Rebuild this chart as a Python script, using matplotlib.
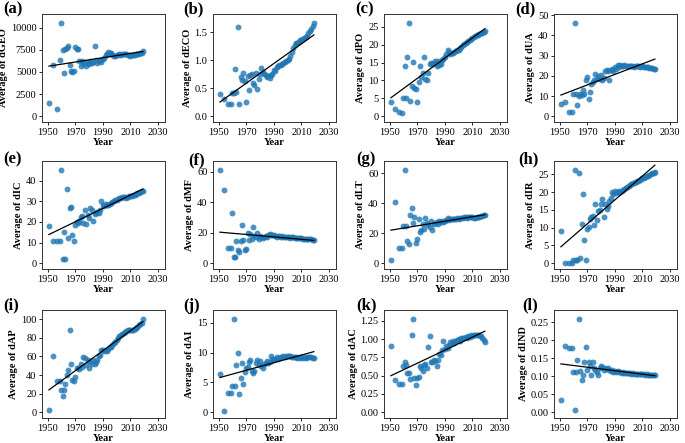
import matplotlib
matplotlib.use("Agg")
import matplotlib.pyplot as plt
import numpy as np
from matplotlib.ticker import MultipleLocator

plt.rcParams['font.family'] = 'serif'
plt.rcParams['font.serif'] = ['Liberation Serif', 'DejaVu Serif']

# years shared by all panels
years = [1951, 1954, 1957, 1959, 1960, 1961, 1962, 1963, 1964, 1965,
         1966, 1967, 1968, 1969, 1970, 1971, 1972, 1973, 1974,
         1975, 1976, 1977, 1978, 1979, 1980, 1981, 1982, 1983, 1984,
         1985, 1986, 1987, 1988, 1989, 1990, 1991, 1992, 1993, 1994,
         1995, 1996, 1997, 1998, 1999, 2000, 2001, 2002, 2003, 2004,
         2005, 2006, 2007, 2008, 2009, 2010, 2011, 2012, 2013, 2014,
         2015, 2016, 2017, 2018, 2019]

dGEO = [1500, 5800, 800, 6400, 10500, 7500, 4900, 7600, 7700, 7900, 5800, 5100, 5000, 5150, 7800, 7600, 7650, 6200, 5700,
        6250, 5900, 6100, 5700, 6000, 5900, 6250, 6000, 6100, 7900,
        6300, 6000, 6200, 6400, 6100, 6500, 6600, 6900, 7000, 7250,
        7200, 7100, 6900, 6850, 6800, 6900, 6950, 7000, 6950, 7050,
        7000, 7050, 7000, 6950, 6900, 6850, 6900, 6950, 6900, 7000,
        7050, 7000, 7100, 7200, 7350]
dECO = [0.40, 0.30, 0.22, 0.22, 0.42, 0.42, 0.85, 0.43, 1.59, 0.22, 0.70, 0.65, 0.77, 0.63, 0.26, 0.72, 0.46, 0.73, 0.75,
        0.60, 0.55, 0.77, 0.49, 0.66, 0.75, 0.87, 0.79, 0.76, 0.73,
        0.70, 0.72, 0.69, 0.73, 0.75, 0.82, 0.80, 0.88, 0.90, 0.92,
        0.91, 0.93, 0.95, 0.97, 0.98, 1.00, 1.03, 1.08, 1.15, 1.22,
        1.28, 1.30, 1.31, 1.33, 1.36, 1.37, 1.38, 1.40, 1.42, 1.44,
        1.48, 1.52, 1.56, 1.61, 1.66]
dPO = [4, 2, 1.2, 1.0, 5, 14, 5, 16.5, 26, 4.2, 8.5, 15.2, 8, 7.5, 4, 9.5, 14, 11, 12,
       16.5, 10.5, 10.2, 12, 14.5, 15, 14.5, 15, 15.5, 14,
       15.5, 14.2, 14.5, 15.8, 16, 16.5, 17.5, 18.4, 18, 17.5,
       17.8, 17.6, 18, 18.2, 18.4, 18.6, 19.0, 19.4, 19.8, 20.2,
       20.5, 20.8, 21.1, 21.4, 21.7, 22.0, 22.2, 22.4, 22.6, 22.8,
       23.0, 23.2, 23.4, 23.6, 23.8]
dUA = [6, 7, 2, 2, 11, 46, 11, 5.5, 10, 11, 10.5, 12.8, 11, 17.8, 19.4, 8.7, 12, 16, 17,
       17.8, 20.7, 18.6, 19.8, 18.5, 20.3, 18, 19, 22.4, 23,
       22.5, 17.8, 22.7, 23.5, 22.5, 24.4, 23.5, 25.2, 24.5, 25.2,
       24.8, 25.0, 25.3, 24.7, 24.9, 25.0, 24.7, 24.9, 24.8, 24.6,
       24.8, 24.7, 24.9, 24.6, 24.7, 24.8, 24.6, 24.5, 24.4, 24.3,
       24.1, 24.0, 23.8, 23.5, 23.3]
dIC = [18, 11, 11, 11, 45, 2, 15.2, 2, 36, 12, 26.6, 27.4, 13.9, 10.8, 18.4, 19.8, 19.3, 20.6, 22.2,
       22.9, 19.6, 25.8, 18.8, 23.3, 22, 26.6, 25.8, 20.4, 23.7,
       24.2, 25, 24.5, 26, 29.9, 28.2, 27.5, 28.5, 28, 28.3,
       28.8, 29.2, 29.6, 30, 30.5, 30.8, 31.2, 31.5, 31.8, 32,
       32.2, 32, 31.8, 32.2, 32.5, 32.6, 32.4, 32.8, 33.1, 33.4,
       33.8, 34.2, 34.6, 34.8, 35]
dMF = [61, 48, 10, 10, 33, 4, 4, 14.5, 8.4, 7.3, 14.5, 24.8, 15, 8.8, 9.5, 19.8, 15, 19.3, 16,
       23.7, 18.2, 17.1, 19.8, 16, 18.2, 17.1, 16.5, 17.5, 18,
       17, 18.5, 19.2, 18.8, 18.3, 18.8, 17.8, 17.5, 18, 17.6,
       17.3, 17.8, 17.4, 17.1, 17.5, 17.2, 17.0, 16.8, 17.1, 16.9,
       16.7, 16.8, 16.6, 16.4, 16.5, 16.3, 16.2, 16.1, 16.0, 15.9,
       15.8, 15.7, 15.6, 15.5, 15.4]
dLT = [2, 41, 10, 10, 25, 62, 25, 15, 12.5, 32.2, 37, 27, 31, 13.4, 16, 29.6, 21, 22, 26.4,
       23, 30.2, 27, 25.3, 24.2, 28, 22.4, 26.4, 26.8, 27.5,
       26.5, 28, 27.2, 28.2, 27.8, 28.5, 29, 30, 28.8, 29.2,
       29.4, 29.6, 29.3, 29.8, 30, 29.7, 30.1, 30.4, 30.2, 30.6,
       30.8, 30.5, 30.7, 30.9, 30.6, 30.8, 30.5, 30.3, 30.6, 30.9,
       31.1, 31.3, 31.6, 31.9, 32.2]
dIR = [9, 0, 0, 0, 0.8, 26.1, 1, 0.8, 25.4, 1.4, 11.1, 19.5, 6.6, 0.9, 9.7, 10.2, 12.5, 13, 13.2,
       10.8, 16.7, 12.2, 14.8, 15, 16.5, 18.1, 13, 16.7, 15.1,
       16, 17.5, 18.2, 20, 19.5, 20.4, 19.8, 20.0, 20.2, 20.0,
       20.3, 20.6, 20.9, 21.2, 21.5, 21.7, 22.0, 22.2, 22.4, 22.6,
       22.8, 23.0, 23.2, 23.4, 23.6, 23.8, 24.0, 24.2, 24.4, 24.6,
       24.8, 25.0, 25.2, 25.4, 25.6]
dAP = [2, 61, 34, 34, 23.5, 17, 23.5, 30.7, 39.7, 45, 88.4, 52.3, 35, 33.6, 37.9, 48, 48, 47, 52.3,
       48.7, 59.6, 58.8, 50.5, 55.9, 48, 54, 52.3, 55.9, 52,
       54, 56, 60.3, 62, 66.8, 67.5, 66, 67, 66, 68,
       69.7, 70, 72, 74, 75.5, 77.6, 80, 82, 83, 84.5,
       85.5, 86.5, 87.5, 88.4, 88.4, 88, 88.5, 89, 90, 91,
       92, 93.5, 95, 96.5, 100]
dAI = [6.4, 0.2, 3.3, 3.3, 4.4, 15.6, 4.4, 7.9, 9.9, 3.1, 5.8, 8.3, 4.7, 6.7, 7.4, 7.6, 8.4, 8.7, 7.0,
       6.6, 6.9, 8.3, 8.7, 8.0, 8.6, 7.8, 7.5, 8.1, 8.3,
       8.6, 8.2, 8.5, 9.4, 8.9, 8.7, 9.0, 9.2, 9.0, 9.1,
       9.3, 9.2, 9.4, 9.3, 9.5, 9.4, 9.5, 9.4, 9.3, 9.2,
       9.3, 9.2, 9.1, 9.2, 9.1, 9.2, 9.1, 9.2, 9.1, 9.2,
       9.3, 9.2, 9.2, 9.1, 9.1]
dAC = [0.90, 0.44, 0.39, 0.39, 0.63, 0.69, 0.64, 0.53, 0.53, 0.46, 1.06, 1.27, 0.47, 0.37, 0.47, 0.48, 0.63, 0.61, 0.56,
       0.65, 0.66, 0.60, 0.89, 1.04, 0.68, 0.68, 0.71, 0.70, 0.63,
       0.71, 0.80, 0.78, 0.85, 0.97, 0.87, 0.91, 0.88, 0.92, 0.96,
       0.94, 0.97, 0.95, 0.98, 0.99, 1.00, 0.98, 1.01, 1.02, 1.01,
       1.03, 1.02, 1.04, 1.03, 1.05, 1.04, 1.05, 1.06, 1.05, 1.06,
       1.05, 1.04, 1.02, 0.99, 0.96]
dIND = [0.033, 0.184, 0.179, 0.179, 0.112, 0.007, 0.112, 0.144, 0.258, 0.114, 0.090, 0.104, 0.139, 0.182, 0.116, 0.139, 0.128, 0.104, 0.139,
        0.124, 0.116, 0.112, 0.104, 0.124, 0.128, 0.126, 0.116, 0.122, 0.120,
        0.124, 0.118, 0.115, 0.117, 0.113, 0.115, 0.112, 0.114, 0.111, 0.112,
        0.110, 0.111, 0.109, 0.110, 0.108, 0.109, 0.108, 0.107, 0.108, 0.107,
        0.106, 0.107, 0.106, 0.105, 0.106, 0.105, 0.105, 0.104, 0.105, 0.104,
        0.104, 0.103, 0.104, 0.103, 0.104]

names = ['dGEO', 'dECO', 'dPO', 'dUA', 'dIC', 'dMF', 'dLT', 'dIR', 'dAP', 'dAI', 'dAC', 'dIND']
series = [dGEO, dECO, dPO, dUA, dIC, dMF, dLT, dIR, dAP, dAI, dAC, dIND]
letters = ['(a)', '(b)', '(c)', '(d)', '(e)', '(f)', '(g)', '(h)', '(i)', '(j)', '(k)', '(l)']
steps = [2500, 0.5, 5, 10, 10, 20, 20, 5, 20, 5, 0.25, 0.05]

# layout in pixels
W, H = 685, 443
col_left = [42, 213, 384, 554]
row_top = [14, 161, 310]
ax_w, ax_h = 123, 108
label_x = [3, 183, 355, 515, 3, 188, 356, 518, 3, 183, 356, 522]
label_y = [1, 1, 1, 1, 151, 152, 151, 151, 297, 298, 297, 297]

fig = plt.figure(figsize=(6.85, 4.43), dpi=100)
x = np.array(years)

for k in range(12):
    r, c = divmod(k, 4)
    ax = fig.add_axes([col_left[c] / W, 1 - (row_top[r] + ax_h) / H, ax_w / W, ax_h / H])
    y = np.array(series[k])
    ax.scatter(x, y, s=18, color='#1f77b4', alpha=0.8, linewidths=0)
    p = np.polyfit(x, y, 1)
    xl = np.array([x.min(), x.max()])
    ax.plot(xl, np.polyval(p, xl), color='black', lw=0.9)
    ax.set_xlim(1946, 2035)
    ax.set_xticks([1950, 1970, 1990, 2010, 2030])
    ymax = y.max()
    ax.set_ylim(-0.062 * ymax, 1.1 * ymax)
    ax.yaxis.set_major_locator(MultipleLocator(steps[k]))
    ax.tick_params(labelsize=7.5, length=2.5, width=0.6, pad=1.5)
    for s in ax.spines.values():
        s.set_linewidth(0.7)
        s.set_color('#333333')
    ax.set_xlabel('Year', fontsize=7.5, fontweight='bold', labelpad=1)
    ax.set_ylabel('Average of ' + names[k], fontsize=7.5, fontweight='bold', labelpad=2)
    fig.text(label_x[k] / W, 1 - label_y[k] / H, letters[k], fontsize=12,
             fontweight='bold', ha='left', va='top')

fig.savefig('out.png', dpi=100)
